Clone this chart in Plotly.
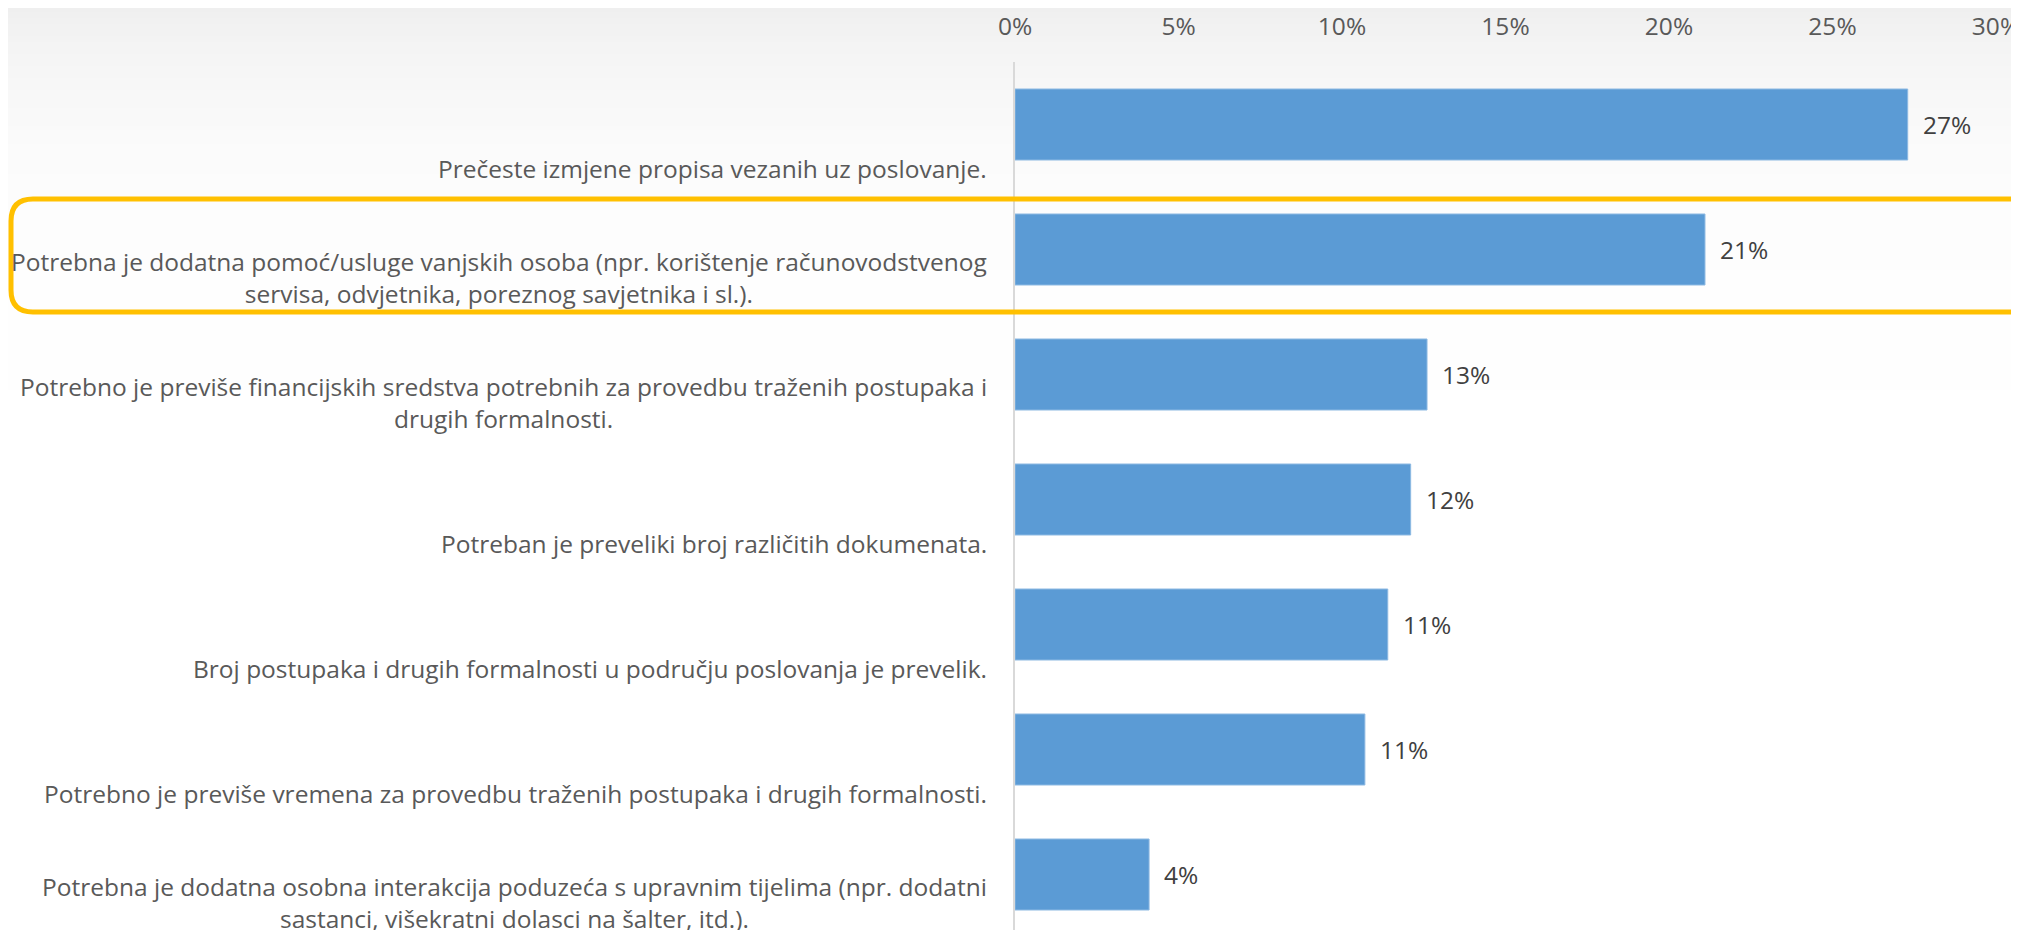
import plotly.graph_objects as go
import math

# ---- data ----
categories = [
    "Prečeste izmjene propisa vezanih uz poslovanje.",
    "Potrebna je dodatna pomoć/usluge vanjskih osoba (npr. korištenje računovodstvenog<br>servisa, odvjetnika, poreznog savjetnika i sl.).",
    "Potrebno je previše financijskih sredstva potrebnih za provedbu traženih postupaka i<br>drugih formalnosti.",
    "Potreban je preveliki broj različitih dokumenata.",
    "Broj postupaka i drugih formalnosti u području poslovanja je prevelik.",
    "Potrebno je previše vremena za provedbu traženih postupaka i drugih formalnosti.",
    "Potrebna je dodatna osobna interakcija poduzeća s upravnim tijelima (npr. dodatni<br>sastanci, višekratni dolasci na šalter, itd.).",
]
values = [0.273, 0.211, 0.126, 0.121, 0.114, 0.107, 0.041]
tick_vals = [0, 0.05, 0.10, 0.15, 0.20, 0.25, 0.30]
tick_text = ["0%", "5%", "10%", "15%", "20%", "25%", "30%"]
highlight_index = 1

# ---- layout geometry (page has an 8px body margin) ----
OFF = 8
W, H = 2019 - OFF, 930 - OFF
ML, MR, MT, MB = 1015 - OFF, 23, 62 - OFF, 0
PW = W - ML - MR
PH = H - MT - MB
Y_RANGE = [6.444, -0.5]
BAND = PH / (Y_RANGE[0] - Y_RANGE[1])
FONT = "Open Sans"
FS = 24.5

def px(xs):  # screen x -> paper
    return (xs - OFF - ML) / PW

def py(ys):  # screen y -> paper
    return 1 - (ys - OFF - MT) / PH

y_idx = list(range(len(categories)))

fig = go.Figure()
fig.add_trace(go.Bar(
    x=values, y=y_idx, orientation="h",
    marker=dict(color="#5b9bd5", line=dict(color="#8db9e2", width=1)),
    hoverinfo="skip",
))

annotations = []
for i, (c, v) in enumerate(zip(categories, values)):
    annotations.append(dict(
        x=0, xref="paper", y=i, yref="y", text=c,
        xanchor="right", yanchor="bottom", align="center", showarrow=False,
        xshift=-26, yshift=-BAND / 2,
        font=dict(family=FONT, size=FS, color="#595959"),
    ))
    annotations.append(dict(
        x=v, xref="x", y=i, yref="y", text=f"{round(v * 100):d}%",
        xanchor="left", yanchor="middle", showarrow=False, xshift=13,
        font=dict(family=FONT, size=FS, color="#404040"),
    ))

shapes = []
# background gradient (top grey fading to white)
step = 6
for y0 in range(0, 420, step):
    v = int(round(255 - 17 * math.exp(-(y0 + step / 2) / 110)))
    col = f"rgb({v},{v},{v})"
    shapes.append(dict(type="rect", xref="paper", yref="paper",
                       x0=px(0), x1=px(2019), y0=py(y0 + step), y1=py(y0),
                       fillcolor=col, line=dict(width=0), layer="below"))

# highlight rounded box (yellow)
top, bot, left, r = 199, 312, OFF + 3, 22
right = 2019 + 40
path = (f"M {px(right)},{py(top)} L {px(left + r)},{py(top)} "
        f"Q {px(left)},{py(top)} {px(left)},{py(top + r)} "
        f"L {px(left)},{py(bot - r)} "
        f"Q {px(left)},{py(bot)} {px(left + r)},{py(bot)} "
        f"L {px(right)},{py(bot)}")
shapes.append(dict(type="path", xref="paper", yref="paper", path=path,
                   line=dict(color="#ffc000", width=5), layer="above"))

fig.update_layout(
    template="none",
    width=W, height=H,
    margin=dict(l=ML, r=MR, t=MT, b=MB, pad=0, autoexpand=False),
    paper_bgcolor="white", plot_bgcolor="rgba(0,0,0,0)",
    bargap=0.432, showlegend=False,
    xaxis=dict(range=[0, 0.30], side="top", tickvals=tick_vals, ticktext=tick_text,
               showgrid=False, zeroline=False, showline=False, automargin=False,
               ticks="outside", ticklen=16, tickcolor="rgba(0,0,0,0)",
               ticklabeloverflow="allow",
               tickfont=dict(family=FONT, size=FS, color="#595959"), fixedrange=True),
    yaxis=dict(range=Y_RANGE, showticklabels=False, showgrid=False,
               zeroline=False, showline=True, linecolor="#d9d9d9", linewidth=2,
               ticks="", fixedrange=True, automargin=False),
    annotations=annotations, shapes=shapes,
)

fig.write_html("out.html", config={"displayModeBar": False})
